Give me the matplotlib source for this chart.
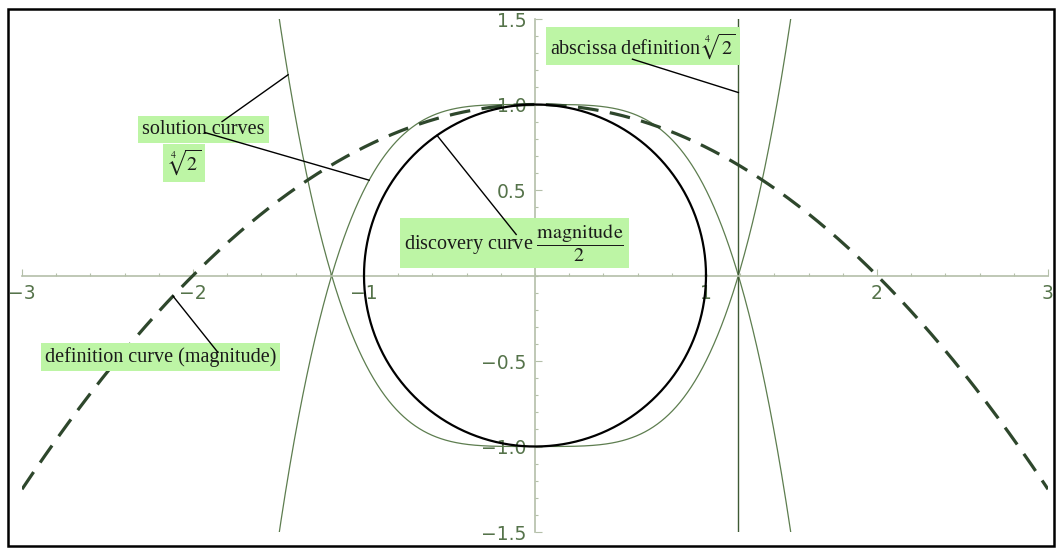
import numpy as np
import matplotlib.pyplot as plt
from matplotlib.patches import Rectangle

plt.rcParams['mathtext.fontset'] = 'stix'

# plot range and ticks
x_range = (-3, 3)
y_range = (-1.5, 1.5)
x_ticks = [-3, -2, -1, 1, 2, 3]
y_ticks = [-1.5, -1.0, -0.5, 0.5, 1.0, 1.5]

root = 2 ** 0.25  # fourth root of 2

# callout labels: (text, text position)
label_abscissa = ('abscissa definition $\\sqrt[4]{2}$', (0.63, 1.34))
label_solution = ('solution curves', (-1.94, 0.855))
label_root = ('$\\sqrt[4]{2}$', (-2.05, 0.66))
label_discovery = ('discovery curve $\\dfrac{\\mathrm{magnitude}}{2}$', (-0.12, 0.19))
label_definition = ('definition curve (magnitude)', (-2.19, -0.475))

fig = plt.figure(figsize=(10.58, 5.5), dpi=100)
ax = fig.add_axes([22 / 1058, 18 / 550, 1026 / 1058, 513 / 550])
ax.set_xlim(*x_range)
ax.set_ylim(*y_range)

x = np.linspace(-3, 3, 3001)
green = '#5d7d4f'

# definition curve: 1 - x^2/4
ax.plot(x, 1 - x ** 2 / 4, color='#2e472c', lw=2.3, dashes=(6.5, 3.6), zorder=3)

# solution curves: +-(x^4 - 2)/2
ax.plot(x, 1 - x ** 4 / 2, color=green, lw=0.9, zorder=2)
ax.plot(x, x ** 4 / 2 - 1, color=green, lw=0.9, zorder=2)

# discovery curve: unit circle
t = np.linspace(0, 2 * np.pi, 800)
ax.plot(np.cos(t), np.sin(t), color='black', lw=1.6, zorder=3)

# abscissa line x = 2^(1/4)
ax.axvline(root, color='#3f5a34', lw=1.0, zorder=2)

# axes through the origin
for side in ['top', 'right']:
    ax.spines[side].set_visible(False)
ax.spines['left'].set_position('zero')
ax.spines['bottom'].set_position('zero')
axis_color = '#b4bfa9'
for side in ['left', 'bottom']:
    ax.spines[side].set_color(axis_color)
    ax.spines[side].set_linewidth(1.2)

ax.set_xticks(x_ticks)
ax.set_xticklabels(['\u22123', '\u22122', '\u22121', '1', '2', '3'])
ax.set_yticks(y_ticks)
ax.set_yticklabels(['\u22121.5', '\u22121.0', '\u22120.5', '0.5', '1.0', '1.5'])
ax.set_xticks(np.arange(-3, 3.01, 0.2), minor=True)
ax.set_yticks(np.arange(-1.5, 1.51, 0.1), minor=True)
ax.tick_params(which='both', direction='in', color=axis_color, width=0.8)
ax.tick_params(which='major', length=5, labelsize=13.5, labelcolor='#55734a', pad=6)
ax.tick_params(which='minor', length=2.5)
for lab in ax.get_yticklabels():
    lab.set_horizontalalignment('right')
ax.patch.set_visible(False)

box = dict(facecolor='#bdf5a5', edgecolor='none', pad=3.0)
txt_kw = dict(fontsize=14.5, family='Liberation Serif', color='#1a1a1a',
              ha='center', va='center', bbox=box, zorder=6)
line_kw = dict(color='black', lw=1.0, zorder=7)

# callout pointers, drawn over the label boxes
def pointer(start, end):
    ax.plot([start[0], end[0]], [start[1], end[1]], **line_kw)

pointer((0.57, 1.265), (root, 1.07))
xa = -1.444
pointer((-1.83, 0.90), (xa, xa ** 4 / 2 - 1))
xb = -0.97
pointer((-1.93, 0.836), (xb, 1 - xb ** 4 / 2))
xc = -0.573
pointer((-0.11, 0.24), (xc, np.sqrt(1 - xc ** 2)))
xd = -2.117
pointer((-1.854, -0.45), (xd, 1 - xd ** 2 / 4))

for text, pos in [label_abscissa, label_solution, label_root,
                  label_discovery, label_definition]:
    ax.text(pos[0], pos[1], text, **txt_kw)

# outer frame
fig.patches.append(Rectangle((8 / 1058, 4 / 550), 1046 / 1058, 537 / 550,
                             transform=fig.transFigure, fill=False,
                             edgecolor='black', lw=1.8, zorder=10))

fig.savefig('out.png', dpi=100)
